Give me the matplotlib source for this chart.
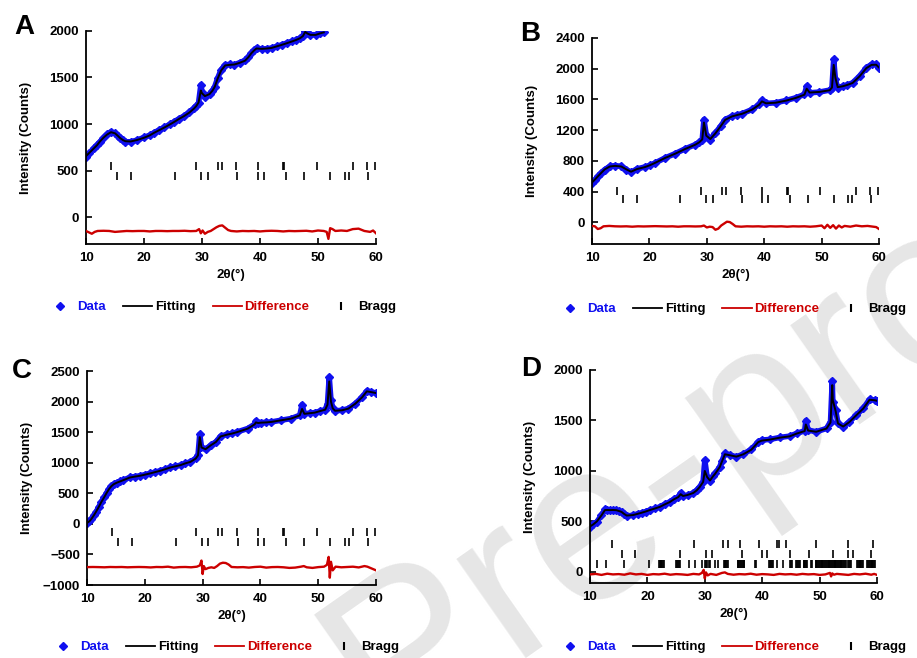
import matplotlib
matplotlib.use('Agg')
import matplotlib.pyplot as plt
from matplotlib.lines import Line2D

plt.rcParams['font.family'] = ['Liberation Sans', 'DejaVu Sans']
plt.rcParams['font.weight'] = 'bold'
plt.rcParams['axes.labelweight'] = 'bold'

# ---------------- panel A ----------------
x_a = [10, 10.6, 11.3, 11.9, 12.4, 13.0, 13.6, 14.3, 15.0, 15.5, 15.9, 16.4, 16.8, 17.7, 18.8,
       20.0, 21.0, 21.7, 22.6, 23.5, 24.4, 25.2, 26.0, 26.9, 27.8, 28.6, 29.0, 29.4, 29.8, 30.0,
       30.5, 31.3, 31.8, 32.2, 32.7, 33.3, 34.0, 34.8, 35.6, 36.5, 37.4, 38.0, 38.5, 39.0, 39.4,
       40.3, 41.2, 42.0, 42.9, 43.8, 44.6, 45.5, 46.2, 46.9, 47.4, 47.8, 48.2, 48.7, 49.6, 50.4, 51.0]
obs_a = [647, 690, 737, 775, 809, 850, 888, 917, 899, 870, 845, 825, 809, 809, 827,
         856, 880, 906, 935, 964, 995, 1025, 1055, 1086, 1125, 1169, 1195, 1223, 1421, 1349,
         1295, 1324, 1360, 1403, 1493, 1583, 1637, 1640, 1637, 1660, 1683, 1720, 1763, 1795, 1817,
         1806, 1810, 1817, 1835, 1853, 1870, 1889, 1905, 1925, 1950, 2005, 1975, 1960, 1960, 1978, 1990]
calc_a = [655, 692, 735, 772, 812, 852, 885, 912, 900, 872, 848, 826, 815, 812, 828,
          852, 878, 904, 933, 962, 993, 1022, 1053, 1085, 1122, 1165, 1192, 1230, 1360, 1330,
          1300, 1322, 1358, 1400, 1488, 1575, 1630, 1636, 1640, 1658, 1680, 1718, 1760, 1792, 1812,
          1808, 1812, 1818, 1835, 1852, 1868, 1887, 1903, 1922, 1945, 1990, 1972, 1958, 1958, 1975, 1985]
xd_a = [10, 10.5, 11, 11.5, 12, 13, 14, 15, 16, 17, 18, 19, 20, 21, 22, 23, 24, 25, 26, 27, 28,
        29, 29.5, 29.8, 30.1, 30.5, 31, 31.5, 32, 32.5, 33, 33.5, 34, 34.5, 35, 36,
        37, 38, 39, 40, 41, 42, 43, 44, 45, 46, 47, 48, 49, 50, 51,
        51.5, 51.8, 52.1, 52.5, 53, 54, 55, 56, 57, 58, 59, 59.5, 60]
diff_a = [-150, -165, -180, -160, -150, -148, -150, -160, -155, -150, -152, -150, -150, -155, -150, -150,
          -152, -150, -150, -148, -152,
          -150, -130, -175, -145, -180, -160, -150, -130, -110, -95, -90, -115, -140, -150, -155,
          -150, -152, -150, -155, -150, -148, -150, -155, -150, -152, -150, -148, -155, -145, -150,
          -160, -235, -120, -130, -150, -145, -150, -130, -125, -150, -160, -145, -175]

# ---------------- panel B ----------------
x_b = [10, 10.5, 11.05, 11.6, 12.2, 13.1, 14.0, 15.1, 16.0, 16.8, 17.8, 19.2, 20.1, 21.0, 22.7,
       24.5, 26.2, 28.0, 28.7, 29.2, 29.5, 29.9, 30.6, 31.5, 32.4, 33.2, 34.4, 35.3, 36.2, 37.9,
       39.1, 39.6, 40.3, 42.0, 43.8, 45.5, 47.0, 47.4, 47.9, 49.6, 51.4, 51.8, 52.1, 52.4, 52.8,
       53.7, 54.5, 55.4, 56.6, 57.8, 58.7, 59.5, 60.0]
obs_b = [513, 555, 600, 645, 687, 730, 739, 730, 687, 652, 696, 722, 745, 774, 839,
         896, 957, 1013, 1045, 1078, 1339, 1143, 1078, 1165, 1252, 1339, 1383, 1400, 1417, 1470,
         1535, 1591, 1548, 1557, 1587, 1622, 1665, 1774, 1687, 1696, 1722, 1752, 2122, 1861, 1752,
         1774, 1790, 1817, 1904, 2013, 2057, 2057, 2013]
calc_b = [520, 558, 602, 645, 690, 728, 736, 728, 690, 660, 694, 720, 745, 776, 838,
          895, 955, 1012, 1044, 1080, 1300, 1130, 1085, 1160, 1250, 1335, 1380, 1398, 1415, 1468,
          1530, 1575, 1550, 1558, 1585, 1620, 1662, 1740, 1690, 1698, 1720, 1755, 2050, 1880, 1760,
          1772, 1790, 1815, 1900, 2008, 2050, 2052, 2015]
xd_b = [10, 10.5, 11, 11.5, 12, 13, 14, 15, 16, 17, 18, 19, 20, 21, 22, 23, 24, 25, 26, 27, 28, 29,
        29.5, 30, 30.5, 31, 31.5, 32, 32.5, 33, 33.5, 34, 34.5, 35,
        36, 37, 38, 39, 40, 41, 42, 43, 44, 45, 46, 47, 48, 49, 50,
        50.5, 51, 51.5, 52, 52.5, 53, 53.5, 54, 55, 56, 57, 58, 59, 59.5, 60]
diff_b = [-45, -50, -85, -75, -50, -45, -50, -52, -50, -55, -50, -52, -50, -48, -50, -52, -50, -55,
          -50, -50, -52, -50,
          -40, -65, -55, -60, -95, -80, -40, -15, 10, 5, -20, -50,
          -55, -50, -52, -50, -55, -50, -52, -50, -55, -50, -52, -50, -55, -50, -40,
          -75, -30, -70, -35, -80, -40, -65, -45, -55, -40, -50, -45, -55, -60, -85]

# ---------------- panel C ----------------
x_c = [10, 10.4, 10.75, 11.2, 11.6, 12.0, 12.5, 13.0, 13.4, 13.8, 14.2, 14.6, 15.1, 15.7, 16.3,
       17.4, 18.3, 19.2, 20.0, 20.9, 21.8, 22.7, 23.5, 24.4, 25.3, 26.2, 27.0, 27.9, 28.8, 29.2,
       29.5, 29.8, 30.5, 31.4, 32.3, 33.1, 34.3, 35.1, 36.0, 37.8, 39.0, 39.2, 39.6, 40.1, 41.0,
       41.9, 43.6, 45.3, 46.8, 47.2, 47.6, 48.5, 49.4, 50.3, 51.2, 51.6, 51.9, 52.2, 52.5, 52.9,
       54.1, 55.2, 56.4, 57.6, 58.4, 59.2, 60.0]
obs_c = [11, 40, 76, 140, 201, 270, 364, 440, 511, 570, 620, 650, 674, 695, 717,
         761, 775, 788, 805, 826, 848, 870, 895, 924, 942, 962, 990, 1016, 1071, 1125,
         1467, 1261, 1217, 1288, 1342, 1435, 1467, 1480, 1505, 1560, 1630, 1685, 1650, 1658, 1660,
         1668, 1696, 1723, 1777, 1951, 1804, 1810, 1821, 1845, 1870, 1967, 2402, 2022, 1900, 1848,
         1859, 1886, 1967, 2076, 2174, 2158, 2141]
calc_c = [15, 42, 80, 142, 205, 272, 362, 440, 508, 568, 615, 648, 672, 694, 716,
          758, 774, 788, 805, 825, 848, 870, 894, 922, 942, 962, 990, 1015, 1068, 1120,
          1420, 1250, 1222, 1285, 1340, 1430, 1462, 1478, 1502, 1558, 1628, 1660, 1650, 1656, 1660,
          1668, 1695, 1722, 1775, 1880, 1800, 1810, 1820, 1845, 1868, 1950, 2330, 2000, 1890, 1850,
          1858, 1885, 1965, 2072, 2168, 2155, 2140]
xd_c = [10, 11, 12, 13, 14, 15, 16, 17, 18, 19, 20, 21, 22, 23, 24, 25, 26, 27, 28, 29,
        29.5, 29.8, 30.0, 30.2, 30.5, 31, 31.5, 32, 32.5, 33, 33.5, 34, 34.5, 35,
        36, 37, 38, 39, 40, 41, 42, 43, 44, 45, 46, 47, 47.5, 48, 49, 50, 51,
        51.5, 51.8, 52.0, 52.2, 52.5, 53, 54, 55, 56, 57, 58, 58.5, 59, 59.5, 60]
diff_c = [-707, -705, -707, -710, -705, -707, -705, -710, -707, -705, -707, -712, -705, -707, -700,
          -715, -707, -705, -710, -700,
          -680, -600, -820, -690, -740, -720, -710, -720, -690, -650, -635, -640, -665, -705,
          -710, -707, -715, -705, -700, -715, -707, -705, -710, -720, -715, -700, -690, -710,
          -720, -707, -700,
          -670, -540, -880, -620, -760, -700, -710, -705, -700, -712, -690, -700, -720, -740, -760]

# ---------------- panel D ----------------
x_d = [10, 10.6, 11.2, 12.0, 12.6, 13.0, 13.5, 14.0, 14.6, 15.0, 15.5, 16.0, 16.4, 17.5, 18.3,
       19.0, 19.7, 20.4, 21.3, 22.2, 23.0, 23.9, 24.6, 25.4, 25.8, 26.2, 27.0, 28.0, 28.6, 29.1,
       29.7, 30.0, 30.4, 30.9, 31.4, 31.8, 32.6, 33.0, 33.5, 34.4, 35.5, 36.7, 38.1, 39.3, 39.9,
       41.3, 43.1, 44.8, 46.0, 47.4, 47.6, 48.0, 49.4, 51.2, 51.9, 52.2, 52.3, 52.8, 53.2, 54.1,
       55.2, 56.4, 57.6, 58.7, 59.6, 60.0]
obs_d = [446, 470, 496, 562, 618, 615, 612, 615, 612, 605, 595, 570, 552, 562, 575,
         585, 598, 612, 628, 645, 670, 694, 720, 744, 783, 750, 760, 783, 810, 843,
         893, 1107, 942, 902, 945, 975, 1041, 1100, 1174, 1157, 1140, 1167, 1213, 1289, 1306,
         1312, 1332, 1345, 1372, 1398, 1498, 1405, 1388, 1421, 1488, 1894, 1686, 1603, 1471, 1438,
         1488, 1554, 1620, 1709, 1702, 1696]
calc_d = [450, 472, 500, 560, 612, 613, 612, 613, 611, 604, 594, 572, 558, 563, 575,
          586, 598, 612, 628, 645, 668, 692, 718, 742, 770, 752, 762, 782, 808, 840,
          890, 1000, 940, 905, 945, 972, 1038, 1095, 1165, 1155, 1142, 1165, 1210, 1285, 1300,
          1310, 1330, 1343, 1370, 1395, 1460, 1400, 1388, 1420, 1480, 1850, 1700, 1590, 1470, 1440,
          1485, 1552, 1618, 1705, 1700, 1695]
xd_d = [10, 11, 12, 13, 14, 15, 16, 17, 18, 19, 20, 21, 22, 23, 24, 25, 26, 27, 28, 29,
        29.5, 29.8, 30.0, 30.2, 30.5, 31, 32, 33, 33.5, 34,
        35, 36, 37, 38, 39, 40, 41, 42, 43, 44, 45, 46, 47, 48, 49, 50, 51,
        51.8, 52.0, 52.2, 52.5, 53, 54, 55, 56, 57, 58, 59, 59.5, 60]
diff_d = [-25, -20, -30, -18, -25, -22, -28, -15, -25, -20, -30, -22, -25, -18, -28, -22, -25, -30,
          -20, -25,
          -10, 20, -65, -5, -35, -20, -30, -10, -5, -20,
          -28, -22, -25, -18, -28, -22, -25, -30, -20, -25, -22, -28, -20, -25, -22, -30, -25,
          -10, -45, -15, -28, -20, -25, -30, -20, -25, -18, -28, -20, -30]

# ---------------- Bragg positions ----------------
bragg1_abc = [14.3, 28.9, 32.7, 33.4, 35.9, 39.6, 43.9, 44.1, 49.8, 56.0, 58.5, 59.8]
bragg2_abc = [15.4, 17.8, 25.4, 29.9, 31.0, 36.1, 39.6, 40.7, 44.5, 47.6, 52.1, 54.6, 55.3, 58.6]
bragg1_d = [13.8, 28.1, 33.2, 34.0, 36.2, 39.5, 42.5, 43.0, 44.1, 49.3, 54.9, 59.3]
bragg2_d = [15.5, 17.9, 25.6, 30.2, 31.2, 36.4, 40.0, 40.9, 44.9, 48.1, 52.4, 55.0, 55.9, 59.0]
bragg3_d = [11.3, 12.8, 15.9, 20.3,
            22.0, 22.15, 22.3, 22.45, 22.6, 22.75, 22.9,
            25.0, 25.15, 25.3, 25.45, 25.6,
            27.2, 28.3, 29.5,
            30.0, 30.15, 30.3, 30.7, 30.85, 31.7, 32.3,
            33.3, 33.45, 33.6, 33.75, 33.9, 34.05,
            35.7, 35.85, 36.0, 36.15, 36.3, 36.45, 36.6, 36.75, 36.9,
            38.8, 39.0,
            41.2, 41.35, 41.5, 41.65, 41.8,
            42.5, 43.6,
            44.9, 45.05, 45.2,
            45.9, 46.05, 46.2, 46.35, 46.5,
            47.2, 47.35, 47.5, 47.65, 47.8,
            48.5, 48.65,
            49.3, 49.45, 49.6, 49.75, 49.9, 50.05, 50.2, 50.35, 50.5, 50.65, 50.8, 50.95,
            51.1, 51.25, 51.4, 51.55, 51.7, 51.85, 52.0, 52.15, 52.3, 52.45, 52.6, 52.75,
            52.9, 53.05, 53.2, 53.35, 53.5, 53.65, 53.8, 53.95, 54.1, 54.25, 54.4, 54.55,
            55.0, 55.15, 55.3, 55.45,
            56.5, 56.65, 56.8, 56.95, 57.1, 57.25, 57.4, 57.55,
            58.3, 58.45, 58.6, 58.75, 58.9, 59.05, 59.2, 59.35, 59.5, 59.65]

# row heights of the Bragg markers (intensity units)
rows_a = [550, 440]
rows_b = [410, 300]
rows_c = [-125, -290]
rows_d = [274, 175, 76]

xticks = [10, 20, 30, 40, 50, 60]
yticks_a = [0, 500, 1000, 1500, 2000]
yticks_b = [0, 400, 800, 1200, 1600, 2000, 2400]
yticks_c = [-1000, -500, 0, 500, 1000, 1500, 2000, 2500]
yticks_d = [0, 500, 1000, 1500, 2000]
legend_labels = ['Data', 'Fitting', 'Difference', 'Bragg']

blue = '#1010f0'
red = '#cc0000'

fig = plt.figure(figsize=(9.17, 6.58), dpi=100)

# journal watermark, behind everything
fig.text(0.42, -0.13, 'Pre-proof', rotation=35, rotation_mode='anchor', fontsize=165,
         color='#e6e6e6', ha='left', va='baseline', fontweight='normal',
         family='Liberation Sans', zorder=-5)


def panel(rect, letter, letter_xy, x, obs, calc, xd, diff, braggs, rows, yticks, ylim, leg_xy):
    ax = fig.add_axes(rect)
    ax.patch.set_alpha(0)
    ax.plot(x, obs, color=blue, lw=4, zorder=2)
    ax.plot(x, obs, 'D', color=blue, ms=4.5, zorder=2)
    ax.plot(x, calc, color='black', lw=1.4, zorder=3)
    ax.plot(xd, diff, color=red, lw=1.7, zorder=3)
    for pos, yy in zip(braggs, rows):
        ax.plot(pos, [yy] * len(pos), '|', color='black', ms=6, mew=1.2, zorder=2)
    ax.set_xlim(10, 60)
    ax.set_xticks(xticks)
    ax.set_ylim(ylim)
    ax.set_yticks(yticks)
    ax.spines['top'].set_visible(False)
    ax.spines['right'].set_visible(False)
    ax.spines['left'].set_linewidth(1.3)
    ax.spines['bottom'].set_linewidth(1.3)
    ax.tick_params(direction='in', length=4, width=1.2, labelsize=9.5)
    ax.tick_params(axis='x', pad=6)
    ax.tick_params(axis='y', pad=5)
    ax.set_ylabel('Intensity (Counts)', fontsize=9.5)
    ax.yaxis.set_label_coords(-0.188, 0.5)
    ax.set_xlabel('2θ(°)', fontsize=9.5, labelpad=3)
    fig.text(letter_xy[0], letter_xy[1], letter, fontsize=20, fontweight='bold',
             ha='center', va='center')
    handles = [Line2D([], [], marker='D', ls='none', color=blue, ms=4),
               Line2D([], [], color='black', lw=1.3),
               Line2D([], [], color=red, lw=1.3),
               Line2D([], [], marker='|', ls='none', color='black', ms=6, mew=1.5)]
    fig.legend(handles, legend_labels, loc='center', bbox_to_anchor=leg_xy, ncol=4,
               frameon=False, fontsize=9.5, labelcolor='linecolor', handlelength=2.2,
               handletextpad=0.2, columnspacing=1.3)
    return ax


panel([0.0938, 0.6292, 0.3162, 0.3237], 'A', (0.026, 0.959), x_a, obs_a, calc_a, xd_a, diff_a,
      [bragg1_abc, bragg2_abc], rows_a, yticks_a, (-290, 2000), (0.241, 0.5334))
panel([0.6456, 0.6292, 0.313, 0.3131], 'B', (0.578, 0.948), x_b, obs_b, calc_b, xd_b, diff_b,
      [bragg1_abc, bragg2_abc], rows_b, yticks_b, (-280, 2400), (0.797, 0.530))
panel([0.0949, 0.1109, 0.3152, 0.3252], 'C', (0.024, 0.436), x_c, obs_c, calc_c, xd_c, diff_c,
      [bragg1_abc, bragg2_abc], rows_c, yticks_c, (-1000, 2500), (0.244, 0.0167))
panel([0.6434, 0.114, 0.313, 0.3237], 'D', (0.579, 0.439), x_d, obs_d, calc_d, xd_d, diff_d,
      [bragg1_d, bragg2_d, bragg3_d], rows_d, yticks_d, (-110, 2000), (0.797, 0.0167))

fig.savefig('out.png', dpi=100)
